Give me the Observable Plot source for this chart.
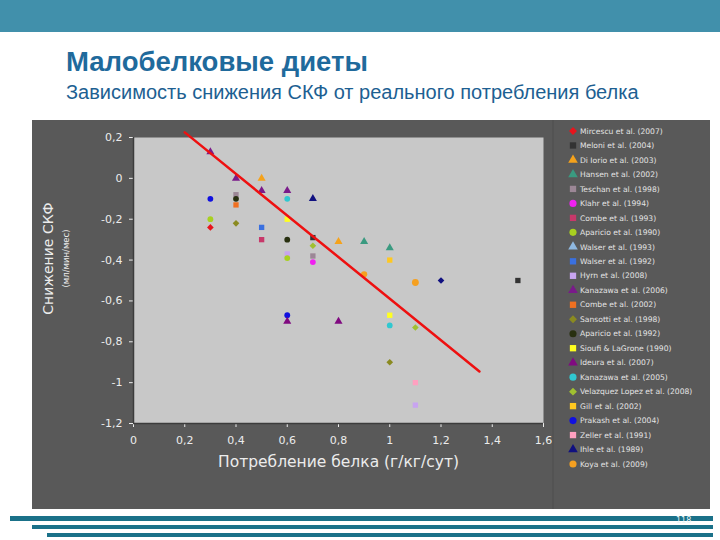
<!DOCTYPE html>
<html><head><meta charset="utf-8">
<script src="https://cdn.jsdelivr.net/npm/d3@7"></script>
<script src="https://cdn.jsdelivr.net/npm/@observablehq/plot@0.6"></script>
<style>
body{margin:0;width:720px;height:540px;position:relative;overflow:hidden;background:#fff;font-family:"Liberation Sans",Arial,sans-serif}
#band{position:absolute;left:0;top:0;width:720px;height:32px;background:#4190ab}
#title{position:absolute;left:66px;top:46px;font-size:27.5px;font-weight:bold;color:#1f6a9c;white-space:nowrap;line-height:32px}
#subtitle{position:absolute;left:66px;top:80px;font-size:20px;color:#1d5f92;white-space:nowrap;line-height:24px}
#panel{position:absolute;left:32px;top:120px;width:678px;height:389px;background:#595959}
#chart{position:absolute;left:0;top:0}
#legend{position:absolute;left:0;top:0}
.stripe{position:absolute;background:#1a7189;right:7px}
#pnum{position:absolute;left:676px;top:516px;font-size:8px;color:#e8f4f8;font-family:"DejaVu Sans",sans-serif}
</style></head>
<body>
<div id="band"></div>
<div id="title">Малобелковые диеты</div>
<div id="subtitle">Зависимость снижения СКФ от реального потребления белка</div>
<div id="panel"><div id="chart"></div><svg id="legend" width="678" height="389"></svg></div>
<div class="stripe" style="left:10px;top:516px;height:5px"></div>
<div class="stripe" style="left:32px;top:525px;height:4px"></div>
<div class="stripe" style="left:47px;top:533px;height:4px"></div>
<div id="pnum">118</div>
<script>
// ---- data ----
const studies = [
  "Mircescu et al. (2007)", "Meloni et al. (2004)", "Di Iorio et al. (2003)", "Hansen et al. (2002)",
  "Teschan et al. (1998)", "Klahr et al. (1994)", "Combe et al. (1993)", "Aparicio et al. (1990)",
  "Walser et al. (1993)", "Walser et al. (1992)", "Hyrn et al. (2008)", "Kanazawa et al. (2006)",
  "Combe et al. (2002)", "Sansotti et al. (1998)", "Aparicio et al. (1992)", "Sioufi & LaGrone (1990)",
  "Ideura et al. (2007)", "Kanazawa et al. (2005)", "Velazquez Lopez et al. (2008)", "Gill et al. (2002)",
  "Prakash et al. (2004)", "Zeller et al. (1991)", "Ihle et al. (1989)", "Koya et al. (2009)"
];
const studyColors = [
  "#e8141c", "#333333", "#f5a21b", "#3a9a80", "#9c8796", "#f020f0", "#c8386a", "#a8d020",
  "#8fb8e0", "#3a70e0", "#c8a4f0", "#7a1a8a", "#f07020", "#8a8a20", "#283010", "#ffff20",
  "#800a80", "#30c8d0", "#a0c030", "#ffc820", "#1010e0", "#ffa0c0", "#101080", "#f5a020"
];
const studyShapes = [
  "diamond", "square", "triangle", "triangle", "square", "circle", "square", "circle",
  "triangle", "square", "square", "triangle", "square", "diamond", "circle", "square",
  "triangle", "circle", "diamond", "square", "circle", "square", "triangle", "circle"
];
const pointStudy = [0, 1, 1, 2, 2, 3, 3, 4, 4, 5, 6, 7, 7, 9, 10, 10, 11, 11, 11, 11, 12, 13, 13, 14, 14, 15, 15, 16, 16, 17, 17, 18, 18, 19, 20, 20, 21, 22, 22, 23, 23];
const pointX = [0.3, 0.7, 1.5, 0.5, 0.8, 0.9, 1.0, 0.4, 0.7, 0.7, 0.5, 0.3, 0.6, 0.5, 0.6, 1.1, 0.3, 0.4, 0.5, 0.6, 0.4, 0.4, 1.0, 0.4, 0.6, 0.6, 1.0, 0.6, 0.8, 0.6, 1.0, 0.7, 1.1, 1.0, 0.3, 0.6, 1.1, 0.7, 1.2, 0.9, 1.1];
const pointY = [-0.24, -0.29, -0.5, 0.0, -0.31, -0.31, -0.34, -0.08, -0.38, -0.41, -0.3, -0.2, -0.39, -0.24, -0.37, -1.11, 0.13, 0.0, -0.06, -0.06, -0.13, -0.22, -0.9, -0.1, -0.3, -0.2, -0.67, -0.7, -0.7, -0.1, -0.72, -0.33, -0.73, -0.4, -0.1, -0.67, -1.0, -0.1, -0.5, -0.47, -0.51];
const pointShape = ["diamond", "square", "square", "triangle", "triangle", "triangle", "triangle", "square", "square", "circle", "square", "circle", "circle", "square", "square", "square", "triangle", "triangle", "triangle", "triangle", "square", "diamond", "diamond", "circle", "circle", "square", "square", "triangle", "triangle", "circle", "circle", "diamond", "diamond", "square", "circle", "circle", "square", "triangle", "diamond", "circle", "circle"];
const trendX = [0.2, 1.35];
const trendY = [0.225, -0.945];
const xTicks = [0, 0.2, 0.4, 0.6, 0.8, 1, 1.2, 1.4, 1.6];
const yTicks = [0.2, 0, -0.2, -0.4, -0.6, -0.8, -1, -1.2];
const xTitle = "Потребление белка (г/кг/сут)";
const yTitle = "Снижение СКФ";
const yUnit = "(мл/мин/мес)";

// ---- build ----
const points = pointStudy.map((s, i) => ({
  study: studies[s], x: pointX[i], y: pointY[i], color: studyColors[s], shape: pointShape[i]
}));
const trend = trendX.map((x, i) => ({x, y: trendY[i]}));
const symOf = {circle: "circle", square: "square", diamond: "diamond2", triangle: "triangle"};
const fmt = d => String(d).replace(".", ",");
const txt = "#ececec";

const dotMarks = ["square", "diamond", "circle", "triangle"].map(sh =>
  Plot.dot(points.filter(p => p.shape === sh), {
    x: "x", y: "y", fill: "color", symbol: symOf[sh],
    r: d => d.study.startsWith("Koya") ? (d.x > 1 ? 6 : 5) : (sh === "circle" ? 4.3 : 4.6),
    stroke: "none"
  })
);

const chart = Plot.plot({
  width: 678, height: 389,
  marginLeft: 101, marginRight: 167, marginTop: 17, marginBottom: 86,
  style: {background: "transparent", color: txt, fontFamily: "DejaVu Sans, sans-serif", fontSize: "11px"},
  color: {type: "identity"},
  x: {domain: [0, 1.6], ticks: xTicks, tickFormat: fmt, tickSize: 4, tickPadding: 9, label: null},
  y: {domain: [-1.2, 0.2], ticks: yTicks, tickFormat: fmt, tickSize: 4, tickPadding: 7, label: null},
  marks: [
    Plot.frame({fill: "#c8c8c8", stroke: "none"}),
    Plot.ruleX([0], {stroke: "#3c3c3c", strokeWidth: 1.5}),
    Plot.ruleY([-1.2], {stroke: "#3c3c3c", strokeWidth: 1.5}),
    ...dotMarks,
    Plot.line(trend, {x: "x", y: "y", stroke: "#ee1010", strokeWidth: 2.5}),
    Plot.text([xTitle], {frameAnchor: "bottom", dy: 43, fontSize: 15.5, fill: txt}),
    Plot.text([yTitle], {frameAnchor: "left", textAnchor: "middle", dx: -85, dy: -22, rotate: -90, fontSize: 14, fill: txt}),
    Plot.text([yUnit], {frameAnchor: "left", textAnchor: "middle", dx: -67, dy: -22, rotate: -90, fontSize: 8.5, fill: txt})
  ]
});
// gradient background for plotting area
const svg = d3.select(chart);
const grad = svg.insert("defs", ":first-child").append("linearGradient")
  .attr("id", "bgGrad").attr("x1", 0).attr("y1", 0).attr("x2", 0).attr("y2", 1);
grad.append("stop").attr("offset", "0%").attr("stop-color", "#bfbfbf");
grad.append("stop").attr("offset", "100%").attr("stop-color", "#dcdcdc");
svg.select("g[aria-label=frame] rect").attr("fill", "url(#bgGrad)");
svg.select("g[aria-label=frame]").attr("fill", "url(#bgGrad)");
document.getElementById("chart").appendChild(chart);

// ---- legend ----
const leg = d3.select("#legend");
const symD3 = {circle: d3.symbolCircle, square: d3.symbolSquare, diamond: d3.symbolDiamond2, triangle: d3.symbolTriangle};
leg.append("line").attr("x1", 521).attr("x2", 521).attr("y1", 0).attr("y2", 389).attr("stroke", "#525252").attr("stroke-width", 1.5);
studies.forEach((name, i) => {
  const y = 11 + i * 14.48;
  leg.append("path").attr("transform", `translate(541,${y})`)
    .attr("d", d3.symbol(symD3[studyShapes[i]], 40)())
    .attr("fill", studyColors[i]);
  leg.append("text").attr("x", 548).attr("y", y).attr("dy", "0.35em")
    .attr("font-family", "DejaVu Sans, sans-serif").attr("font-size", 7.6)
    .attr("fill", "#e4e4e4").text(name);
});
</script>
</body></html>
